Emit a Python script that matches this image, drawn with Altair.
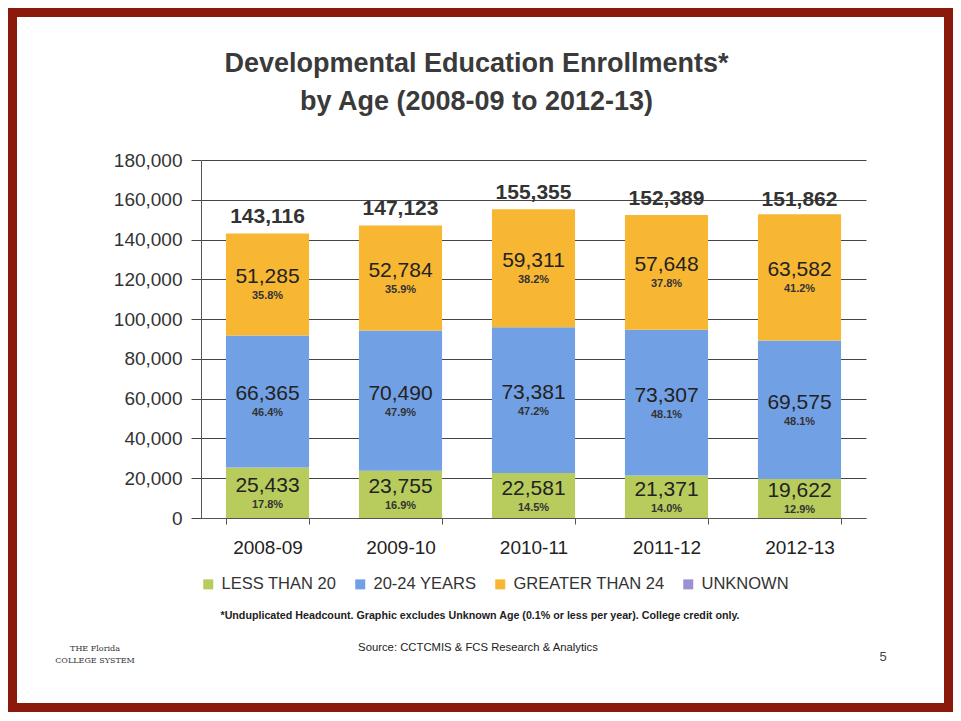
import altair as alt
import pandas as pd

# ---- data ----
years = ["2008-09", "2009-10", "2010-11", "2011-12", "2012-13"]
groups = ["LESS THAN 20", "20-24 YEARS", "GREATER THAN 24", "UNKNOWN"]
less_than_20 = [25433, 23755, 22581, 21371, 19622]
age_20_24 = [66365, 70490, 73381, 73307, 69575]
greater_than_24 = [51285, 52784, 59311, 57648, 63582]
pct_less_than_20 = ["17.8%", "16.9%", "14.5%", "14.0%", "12.9%"]
pct_20_24 = ["46.4%", "47.9%", "47.2%", "48.1%", "48.1%"]
pct_greater_than_24 = ["35.8%", "35.9%", "38.2%", "37.8%", "41.2%"]
totals = [143116, 147123, 155355, 152389, 151862]
y_ticks = [0, 20000, 40000, 60000, 80000, 100000, 120000, 140000, 160000, 180000]
colors = ["#b7cc5d", "#72a0e4", "#f8b733", "#9c8fd3"]

title_lines = ["Developmental Education Enrollments*", "by Age (2008-09 to 2012-13)"]
footnote = "*Unduplicated Headcount. Graphic excludes Unknown Age (0.1% or less per year). College credit only."
source = "Source:  CCTCMIS & FCS Research & Analytics"

# ---- build table ----
rows = []
series = [less_than_20, age_20_24, greater_than_24]
pcts = [pct_less_than_20, pct_20_24, pct_greater_than_24]
for i, yr in enumerate(years):
    base = 0
    for g in range(3):
        v = series[g][i]
        rows.append({"year": yr, "group": groups[g], "order": g, "value": v,
                     "pct": pcts[g][i], "mid": base + v / 2})
        base += v
df = pd.DataFrame(rows)
tdf = pd.DataFrame({"year": years, "total": totals})

FONT = "Liberation Sans"

x_axis = alt.Axis(labelAngle=0, tickBand="extent", grid=False,
                  domainColor="#555", tickColor="#555", tickSize=6,
                  labelFont=FONT, labelFontSize=19, labelColor="#222",
                  labelPadding=14)
x_scale = alt.Scale(paddingInner=0.375, paddingOuter=0.1875)
y_axis = alt.Axis(values=y_ticks, format=",.0f", grid=True, gridColor="#444",
                  gridWidth=1, domainColor="#555", tickColor="#444",
                  tickSize=10, labelFont=FONT, labelFontSize=19,
                  labelColor="#333", labelPadding=9, labelOverlap=False)
y_scale = alt.Scale(domain=[0, 180000], nice=False)


def X():
    return alt.X("year:N", sort=years, title=None, scale=x_scale, axis=x_axis)


def Y(field, **kw):
    return alt.Y(field, scale=y_scale, axis=y_axis, title=None, **kw)


bars = alt.Chart(df).mark_bar().encode(
    x=X(),
    y=Y("value:Q", stack="zero"),
    color=alt.Color("group:N", scale=alt.Scale(domain=groups, range=colors),
                    legend=alt.Legend(title=None, orient="none", legendX=-1, legendY=416,
                                      direction="horizontal", symbolType="square",
                                      symbolSize=100, symbolStrokeWidth=0,
                                      labelFont=FONT, labelFontSize=16.5,
                                      labelColor="#333", labelOffset=5, padding=0,
                                      columnPadding=15, labelLimit=300)),
    order=alt.Order("order:Q"),
)

nums = alt.Chart(df).mark_text(font=FONT, fontSize=21, color="#222", dy=-7).encode(
    x=X(), y=Y("mid:Q"), text=alt.Text("value:Q", format=","),
)
pct_text = alt.Chart(df).mark_text(font=FONT, fontSize=11, fontWeight="bold",
                                   color="#333", dy=12).encode(
    x=X(), y=Y("mid:Q"), text="pct:N",
)
tot_text = alt.Chart(tdf).mark_text(font=FONT, fontSize=21, fontWeight="bold",
                                    color="#333", baseline="bottom", dy=-6).encode(
    x=X(), y=Y("total:Q"), text=alt.Text("total:Q", format=","),
)

one = alt.Data(values=[{}])
foot = alt.Chart(one).mark_text(font=FONT, fontSize=10.7, fontWeight="bold",
                                color="#222").encode(
    x=alt.value(279), y=alt.value(456), text=alt.value(footnote))
src = alt.Chart(one).mark_text(font=FONT, fontSize=11.3, color="#222").encode(
    x=alt.value(277), y=alt.value(488), text=alt.value(source))
page = alt.Chart(one).mark_text(font=FONT, fontSize=13, color="#444").encode(
    x=alt.value(682), y=alt.value(497), text=alt.value("5"))
logo1 = alt.Chart(one).mark_text(font="DejaVu Serif", fontSize=8, color="#333").encode(
    x=alt.value(-106), y=alt.value(489), text=alt.value("THE Florida"))
logo2 = alt.Chart(one).mark_text(font="DejaVu Serif", fontSize=8, color="#333").encode(
    x=alt.value(-106), y=alt.value(501), text=alt.value("COLLEGE SYSTEM"))
frame = alt.Chart(one).mark_rect(fillOpacity=0, stroke="#8b1a0c", strokeWidth=9).encode(
    x=alt.value(-188.5), x2=alt.value(747.5), y=alt.value(-147.5), y2=alt.value(547.5))

chart = alt.layer(bars, nums, pct_text, tot_text, foot, src, page, logo1, logo2, frame).properties(
    width=665, height=358,
    autosize=alt.AutoSizeParams(type="none"),
    padding={"left": 193, "top": 152, "right": 87, "bottom": 195},
    background="white",
    title=alt.TitleParams(text=title_lines, font=FONT, fontSize=27, fontWeight="bold",
                          color="#3a3a3a", anchor="middle", dx=-57, offset=-108,
                          lineHeight=38),
).configure_view(strokeWidth=0)

chart.save("out.html", embed_options={"renderer": "svg", "actions": False})
